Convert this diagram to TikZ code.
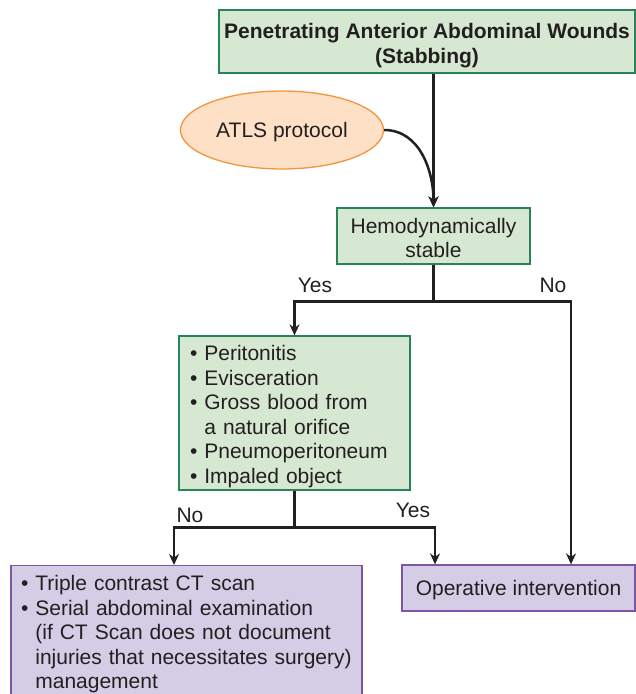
\documentclass[tikz,border=0pt]{standalone}
\usepackage{fontspec}
\setmainfont{Liberation Sans}
\usetikzlibrary{arrows.meta, positioning, shapes.geometric}
\definecolor{VertFond}{RGB}{214,232,210}
\definecolor{VertTrait}{RGB}{40,130,90}
\definecolor{ViolFond}{RGB}{213,204,230}
\definecolor{ViolTrait}{RGB}{125,85,165}
\definecolor{PecheFond}{RGB}{253,224,198}
\definecolor{PecheTrait}{RGB}{240,150,60}
\definecolor{Encre}{RGB}{35,31,32}
\newcommand\haut[1]{\rule{0pt}{#1}}
\tikzset{boite/.style={rectangle, draw=VertTrait, fill=VertFond,
  line width=1.3pt, text=Encre, inner sep=0pt, align=center,
  font=\fontsize{21}{24.5}\selectfont}}
\tikzset{boitev/.style={boite, draw=ViolTrait, fill=ViolFond}}
\tikzset{ovale/.style={ellipse, draw=PecheTrait, fill=PecheFond, line width=1.3pt,
  text=Encre, minimum width=203pt, minimum height=78pt,
  font=\fontsize{21}{24.5}\selectfont}}
\tikzset{etiq/.style={text=Encre, inner sep=0pt, font=\fontsize{21}{24.5}\selectfont}}
\tikzset{trait/.style={draw=Encre, line width=2.5pt}}
\tikzset{fl/.style={trait, -{Stealth[length=11pt, width=10pt]}}}

\begin{document}
\begin{tikzpicture}[x=1pt, y=1pt]
\useasboundingbox (0,0) rectangle (636,-694);
\clip (0,0) rectangle (636,-694);
\node[boite, minimum width=416pt, minimum height=63pt, font=\fontsize{21}{25}\selectfont\bfseries]
  (titre) at (427,-41.5) {\haut{23pt}Penetrating Anterior Abdominal Wounds\\(Stabbing)};
\node[ovale] (atls) at (282,-130) {\haut{19pt}ATLS protocol};
\node[boite, minimum width=193pt, minimum height=56pt] (hemo) at (433.5,-236) {\haut{19pt}Hemodynamically\\stable};
\node[boite, align=left, text width=209pt, inner xsep=11pt, minimum height=154pt]
  (liste) at (294.5,-413) {\haut{22pt}\textbullet\ Peritonitis\\
  \textbullet\ Evisceration\\
  \textbullet\ Gross blood from\\
  \phantom{\textbullet\ }a natural orifice\\
  \textbullet\ Pneumoperitoneum\\
  \textbullet\ Impaled object};
\node[boitev, align=left, text width=331pt, inner xsep=10pt, inner ysep=10pt, anchor=north]
  (scan) at (186.5,-565) {\textbullet\ Triple contrast CT scan\\
  \textbullet\ Serial abdominal examination\\
  \phantom{\textbullet\ }(if CT Scan does not document\\
  \phantom{\textbullet\ }injuries that necessitates surgery)\\
  \phantom{\textbullet\ }management};
\node[boitev, minimum width=233pt, minimum height=46pt] (oper) at (518.5,-588) {\haut{19pt}Operative intervention};
% etiquettes
\node[etiq] (oui1) at (315,-285) {Yes};
\node[etiq] (non1) at (553,-285) {No};
\node[etiq] (non2) at (190,-515) {No};
\node[etiq] (oui2) at (413,-510) {Yes};
% fleches
\draw[fl] (hemo.north |- titre.south) -- (hemo.north);
\draw[fl] (atls.east) to[out=0, in=90] (hemo.north);
\draw[trait] (hemo.south) -- ++(0,-37) coordinate (emb1);
\draw[fl] (emb1) -| (liste.north);
\draw[fl] (emb1) -| ([xshift=52.5pt]oper.north);
\draw[trait] (liste.south) -- ++(0,-37) coordinate (emb2);
\draw[fl] (emb2) -| ([xshift=-12.5pt]scan.north);
\draw[fl] (emb2) -| ([xshift=-83.5pt]oper.north);
\end{tikzpicture}
\end{document}
